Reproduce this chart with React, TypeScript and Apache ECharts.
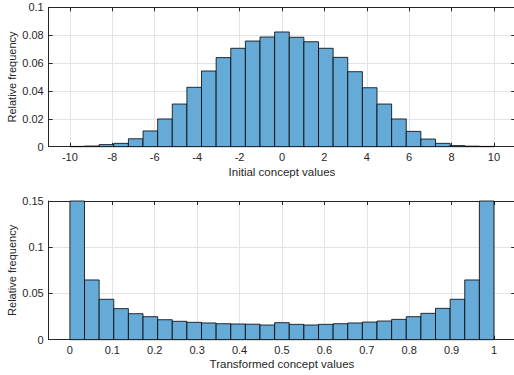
import React, { useEffect, useRef } from "react";
import * as echarts from "echarts";

// Top histogram: 29 bins spanning [-10, 10]
const topRange = [-10, 10];
const topValues = [
  0.0002, 0.0005, 0.0015, 0.0024, 0.0057, 0.0113, 0.0199, 0.0306, 0.0426, 0.0543,
  0.0639, 0.0706, 0.0758, 0.0787, 0.0823, 0.0785, 0.0753, 0.0706, 0.0641, 0.0538,
  0.0423, 0.0306, 0.0199, 0.011, 0.0055, 0.0024, 0.0008, 0.0004, 0.0002,
];
const topXTicks = [-10, -8, -6, -4, -2, 0, 2, 4, 6, 8, 10];

// Bottom histogram: 29 bins spanning [0, 1]
const bottomRange = [0, 1];
const bottomValues = [
  0.16, 0.0646, 0.0437, 0.0336, 0.0281, 0.0249, 0.0216, 0.0199, 0.0188, 0.0181,
  0.0173, 0.017, 0.0168, 0.0159, 0.0184, 0.0166, 0.0159, 0.0166, 0.0173, 0.0181,
  0.0191, 0.0202, 0.022, 0.0249, 0.0285, 0.0339, 0.0437, 0.0646, 0.16,
];
const bottomXTicks = [0, 0.1, 0.2, 0.3, 0.4, 0.5, 0.6, 0.7, 0.8, 0.9, 1];

const topXLabel = "Initial concept values";
const bottomXLabel = "Transformed concept values";
const yLabel = "Relative frequency";

const FONT = "'Liberation Sans', Arial, Helvetica, sans-serif";
const TXT = "#262626";
const AXIS = "#262626";
const GRIDC = "#e3e3e3";
const FILL = "#66AAD7";

function binData(range: number[], values: number[]) {
  const w = (range[1] - range[0]) / values.length;
  return values.map((v, i) => [range[0] + i * w, range[0] + (i + 1) * w, v]);
}

function xAxes(gridIndex: number, min: number, max: number, ticks: number[], name: string, nameGap: number) {
  return [
    {
      type: "value",
      gridIndex,
      min,
      max,
      position: "bottom",
      name,
      nameLocation: "middle",
      nameGap,
      nameMoveOverlap: false,
      nameTextStyle: { color: TXT, fontSize: 11.5, fontFamily: FONT },
      axisLine: { show: true, onZero: false, lineStyle: { color: AXIS, width: 1 } },
      axisTick: { show: true, inside: true, length: 4, customValues: ticks, lineStyle: { color: AXIS } },
      axisLabel: { show: true, customValues: ticks, color: TXT, fontSize: 11, fontFamily: FONT, margin: 5 },
      splitLine: { show: true, lineStyle: { color: GRIDC, width: 1 } },
    },
    {
      type: "value",
      gridIndex,
      min,
      max,
      position: "top",
      axisLine: { show: true, onZero: false, lineStyle: { color: AXIS, width: 1 } },
      axisTick: { show: true, inside: true, length: 4, customValues: ticks, lineStyle: { color: AXIS } },
      axisLabel: { show: false, customValues: ticks },
      splitLine: { show: false },
    },
  ];
}

function yAxes(gridIndex: number, max: number, interval: number) {
  return [
    {
      type: "value",
      gridIndex,
      min: 0,
      max,
      interval,
      position: "left",
      name: yLabel,
      nameLocation: "middle",
      nameGap: 31,
      nameRotate: 90,
      nameMoveOverlap: false,
      nameTextStyle: { color: TXT, fontSize: 11, fontFamily: FONT },
      axisLine: { show: true, onZero: false, lineStyle: { color: AXIS, width: 1 } },
      axisTick: { show: true, inside: true, length: 4, lineStyle: { color: AXIS } },
      axisLabel: { show: true, color: TXT, fontSize: 11, fontFamily: FONT, margin: 5 },
      splitLine: { show: true, lineStyle: { color: GRIDC, width: 1 } },
    },
    {
      type: "value",
      gridIndex,
      min: 0,
      max,
      interval,
      position: "right",
      axisLine: { show: true, onZero: false, lineStyle: { color: AXIS, width: 1 } },
      axisTick: { show: true, inside: true, length: 4, lineStyle: { color: AXIS } },
      axisLabel: { show: false },
      splitLine: { show: false },
    },
  ];
}

function histSeries(xAxisIndex: number, yAxisIndex: number, data: number[][]) {
  return {
    type: "custom",
    xAxisIndex,
    yAxisIndex,
    data,
    encode: { x: [0, 1], y: 2 },
    renderItem: (params: any, api: any) => {
      const lo = api.value(0);
      const hi = api.value(1);
      const h = api.value(2);
      const p0 = api.coord([lo, 0]);
      const p1 = api.coord([hi, h]);
      const cs = params.coordSys;
      const top = Math.max(p1[1], cs.y);
      return {
        type: "rect",
        shape: { x: p0[0], y: top, width: p1[0] - p0[0], height: p0[1] - top },
        style: { fill: FILL, stroke: "#000", lineWidth: 0.8 },
      };
    },
  };
}

export default function App() {
  const ref = useRef<HTMLDivElement>(null);
  useEffect(() => {
    if (!ref.current) return;
    const chart = echarts.init(ref.current, undefined, { renderer: "svg" });
    const option: any = {
      animation: false,
      backgroundColor: "#ffffff",
      grid: [
        { left: 48.7, top: 7.3, right: -1.2, height: 139.4, containLabel: false, outerBoundsMode: "none" },
        { left: 48.7, top: 201, right: -1.2, height: 138.7, containLabel: false, outerBoundsMode: "none" },
      ],
      xAxis: [
        ...xAxes(0, -11, 11, topXTicks, topXLabel, 19),
        ...xAxes(1, -0.05, 1.05, bottomXTicks, bottomXLabel, 18),
      ],
      yAxis: [...yAxes(0, 0.1, 0.02), ...yAxes(1, 0.15, 0.05)],
      series: [
        histSeries(0, 0, binData(topRange, topValues)),
        histSeries(2, 2, binData(bottomRange, bottomValues)),
      ],
    };
    chart.setOption(option);
    return () => chart.dispose();
  }, []);
  return (
    <div
      ref={ref}
      style={{ position: "fixed", left: 0, top: 0, width: 514, height: 375, background: "#fff" }}
    />
  );
}
